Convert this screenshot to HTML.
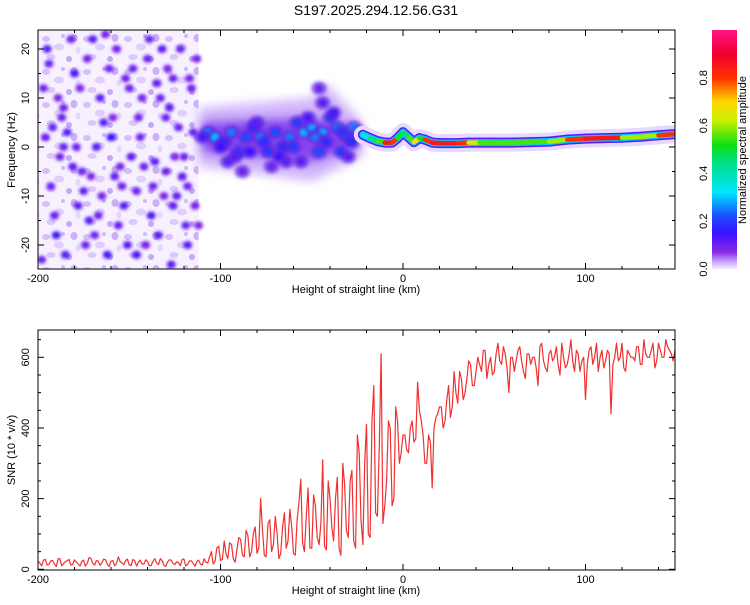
<!DOCTYPE html>
<html><head><meta charset="utf-8"><style>
body{margin:0;background:#fff;font-family:"Liberation Sans",sans-serif;}
svg text{font-family:"Liberation Sans",sans-serif;fill:#000;}
</style></head><body>
<svg id="c" width="750" height="600" xmlns="http://www.w3.org/2000/svg">
<defs>
<filter id="bl" x="-50%" y="-50%" width="200%" height="200%"><feGaussianBlur stdDeviation="1.6"/></filter>
<filter id="bl4" x="-20%" y="-50%" width="140%" height="200%"><feGaussianBlur stdDeviation="5"/></filter>
<pattern id="noise" width="41" height="33" patternUnits="userSpaceOnUse">
<rect width="41" height="33" fill="#f6f0ff"/>
<ellipse cx="5" cy="6" rx="4" ry="3" fill="#d6bffb"/><ellipse cx="18" cy="14" rx="5" ry="3.5" fill="#e0cffd"/><ellipse cx="33" cy="5" rx="3.5" ry="4" fill="#cbb0f8"/>
<ellipse cx="10" cy="24" rx="4.5" ry="3" fill="#dcc8fc"/><ellipse cx="28" cy="26" rx="3" ry="3" fill="#c8a8f6"/><ellipse cx="37" cy="17" rx="2.5" ry="3.5" fill="#e4d6fd"/><ellipse cx="22" cy="3" rx="2" ry="2" fill="#d2b8fa"/></pattern>
<linearGradient id="cb" x1="0" y1="1" x2="0" y2="0">
<stop offset="0" stop-color="#f4ecff"/><stop offset="0.03" stop-color="#c9a6ff"/><stop offset="0.07" stop-color="#8a2be2"/><stop offset="0.15" stop-color="#3a10ff"/><stop offset="0.22" stop-color="#1b4cff"/><stop offset="0.32" stop-color="#00e5ff"/><stop offset="0.45" stop-color="#00e080"/><stop offset="0.52" stop-color="#10e010"/><stop offset="0.62" stop-color="#c8f000"/><stop offset="0.7" stop-color="#ffd800"/><stop offset="0.8" stop-color="#ff3000"/><stop offset="0.9" stop-color="#f00030"/><stop offset="1" stop-color="#ff1488"/></linearGradient>
<clipPath id="clipTop"><rect x="38" y="30" width="637" height="239"/></clipPath>
<clipPath id="clipBot"><rect x="38" y="330" width="637" height="240"/></clipPath>
</defs>
<text x="376" y="15" font-size="14" text-anchor="middle">S197.2025.294.12.56.G31</text>
<g id="topPanel"></g>
<g id="botPanel"></g>
<g id="cbar"></g>
</svg>
<script>
// ---- data ----
const ridgeX = [-22,-18,-14,-10,-6,-3,0,3,6,9,12,16,20,24,30,36,42,50,60,70,80,90,100,110,120,130,140,148];
const ridgeF = [2.5,1.8,1.2,0.9,0.9,1.8,3.0,2.0,1.0,1.8,1.5,0.9,0.8,0.8,0.8,0.9,0.9,0.9,0.9,1.0,1.1,1.5,1.7,1.8,1.9,2.1,2.4,2.6];
const ridgeAmp = [0.35,0.45,0.55,0.85,0.8,0.5,0.45,0.55,0.7,0.5,0.8,0.85,0.85,0.85,0.8,0.65,0.55,0.55,0.55,0.55,0.6,0.8,0.85,0.85,0.6,0.6,0.8,0.85];
const blobX = [-107,-103,-98,-94,-90,-86,-82,-78,-74,-70,-66,-62,-58,-54,-50,-46,-44,-40,-36,-33,-30,-27,-24,-100,-92,-84,-76,-68,-60,-52,-48,-42,-38,-34,-28,-46,-56,-72,-88,-96,-80,-64,-44,-30,-110];
const blobF = [3,2,1,3,-1,2,4,2,-1,3,0,2,5,3,4,-1,3,6,4,3,2,4,3,0,-2,-1,1,-2,0,6,2,1,7,-1,1,12,-3,-4,-5,-3,5,-3,9,-2,2];
const blobAmp = [0.25,0.3,0.18,0.25,0.2,0.22,0.18,0.26,0.2,0.22,0.18,0.25,0.2,0.3,0.28,0.22,0.28,0.2,0.24,0.2,0.22,0.26,0.3,0.15,0.12,0.15,0.18,0.15,0.2,0.14,0.25,0.18,0.14,0.2,0.18,0.1,0.12,0.1,0.1,0.12,0.12,0.12,0.12,0.12,0.14];
const bgX = [-195,-190,-186,-180,-176,-170,-165,-160,-156,-150,-146,-140,-136,-130,-126,-122,-118,-115,-193,-184,-174,-166,-158,-148,-138,-128,-120,-197,-188,-178,-168,-162,-152,-144,-134,-124,-116,-192,-182,-172,-154,-142,-132,-126,-119,-186,-164,-146,-130,-113,
 -198,-189,-181,-173,-167,-159,-151,-143,-137,-129,-121,-114,-196,-185,-177,-169,-157,-149,-139,-131,-123,-117,-191,-179,-171,-161,-153,-141,-133,-125,-194,-175,-163,-145,-127,-112,-187,-155,-135,-118];
const bgF = [20,-18,8,15,-5,22,-10,2,-16,12,-22,18,-3,6,-12,20,-20,3,-8,3,-20,10,-6,16,-14,8,-2,12,-2,-12,0,-22,14,2,-18,-10,12,4,22,-15,-8,-4,20,14,-16,0,5,-9,-5,18,
 -23,10,-4,18,-14,6,-20,10,-8,16,-6,-12,2,-22,12,-18,20,-2,22,-10,4,14,-14,0,-6,16,-12,-20,10,-2,17,-9,23,6,-24,-16,6,-4,13,-8];
const bgAmp = [0.12,0.14,0.1,0.13,0.1,0.12,0.09,0.15,0.11,0.1,0.13,0.1,0.12,0.1,0.11,0.1,0.12,0.1,0.1,0.12,0.1,0.12,0.11,0.1,0.13,0.11,0.1,0.1,0.1,0.11,0.12,0.13,0.1,0.1,0.12,0.11,0.1,0.1,0.1,0.12,0.1,0.1,0.11,0.1,0.1,0.1,0.12,0.1,0.1,0.09,
 0.1,0.08,0.11,0.09,0.1,0.08,0.12,0.09,0.1,0.08,0.11,0.09,0.1,0.12,0.08,0.1,0.09,0.11,0.1,0.08,0.1,0.09,0.11,0.1,0.08,0.1,0.12,0.09,0.1,0.08,0.1,0.11,0.09,0.1,0.12,0.08,0.1,0.09,0.11,0.1];
const snrVals = [22,10,28,14,25,8,30,16,24,12,27,15,22,9,33,17,25,11,29,14,23,10,35,18,24,12,28,9,26,15,22,11,30,13,25,8,27,16,21,10,29,14,24,9,26,12,
20,35,15,60,25,80,30,70,20,90,40,110,35,100,45,
200,40,130,50,150,30,120,60,170,45,140,255,50,230,60,180,70,310,55,200,
80,260,40,240,90,280,60,330,70,410,90,520,150,610,180,
420,180,460,300,380,
340,400,360,530,420,300,380,230,430,460,
400,480,430,560,470,540,500,590,520,560,
580,620,540,600,560,640,580,610,500,600,590,630,560,610,580,600,520,640,570,610,590,630,550,600,580,650,560,610,590,480,620,580,640,600,570,620,440,600,590,640,560,610,600,630,580,650,600,620,570,640,600,650,620,590,640];
const snrValsB = [18,26,12,24,15,30,10,22,28,14,20,9,26,17,31,12,23,19,27,8,25,16,22,13,29,11,24,20,15,27,10,23,18,30,12,21,26,14,19,28,9,24,17,22,15,
30,18,50,22,65,28,45,75,30,55,85,35,95,50,120,
60,110,35,140,70,100,45,160,80,120,40,190,75,150,60,210,90,130,65,250,
120,200,60,300,110,250,80,380,140,300,100,420,160,350,130,
250,400,200,420,330,
380,330,420,370,450,380,300,360,400,440,
460,420,520,460,500,560,480,540,580,520,
600,560,620,580,550,610,590,630,570,600,560,620,590,540,610,600,570,630,590,560,620,600,580,640,570,610,590,620,560,600,580,630,600,560,620,590,610,580,640,600,570,620,600,590,630,580,610,600,640,590,620,600,630,610,620];
const xTicks = [-200,-100,0,100];
const fTicks = [-20,-10,0,10,20];
const snrTicks = [0,200,400,600];
const cbTicks = [0.0,0.2,0.4,0.6,0.8];

// ---- scales ----
const L=38,R=675;
const xs = v => 403 + v*1.825;
const fs = v => 147 - v*4.9;
const ss = v => 569.3 - v*0.3533;
const NS='http://www.w3.org/2000/svg';
function mk(tag,attrs,parent){const e=document.createElementNS(NS,tag);for(const k in attrs)e.setAttribute(k,attrs[k]);parent.appendChild(e);return e;}
const stops=[[0,[244,236,255]],[0.03,[201,166,255]],[0.07,[138,43,226]],[0.15,[58,16,255]],[0.22,[27,76,255]],[0.32,[0,229,255]],[0.45,[0,224,128]],[0.52,[16,224,16]],[0.62,[200,240,0]],[0.7,[255,216,0]],[0.8,[255,48,0]],[0.9,[240,0,48]],[1,[255,20,136]]];
function cmap(a){for(let i=1;i<stops.length;i++){if(a<=stops[i][0]){const[t0,c0]=stops[i-1],[t1,c1]=stops[i];const t=(a-t0)/(t1-t0);return 'rgb('+c0.map((c,j)=>Math.round(c+(c1[j]-c)*t)).join(',')+')';}}return 'rgb(255,20,136)';}

// ---- top panel ----
const topG=document.getElementById('topPanel');
const tg=mk('g',{'clip-path':'url(#clipTop)'},topG);
const bgr=mk('rect',{x:xs(-200),y:30,width:xs(-112)-xs(-200),height:239,fill:'url(#noise)'},tg);


const halo=mk('path',{d:'M'+xs(-112)+' '+fs(8)+' L'+xs(-50)+' '+fs(10)+' L'+xs(-42)+' '+fs(13)+' L'+xs(-22)+' '+fs(5)+' L'+xs(-22)+' '+fs(-2)+' L'+xs(-50)+' '+fs(-7)+' L'+xs(-112)+' '+fs(-4)+'Z',fill:'#d2b6fb',filter:'url(#bl4)'},tg);


const core=mk('path',{d:'M'+xs(-110)+' '+fs(5)+' L'+xs(-50)+' '+fs(6)+' L'+xs(-25)+' '+fs(4)+' L'+xs(-25)+' '+fs(0)+' L'+xs(-50)+' '+fs(-3)+' L'+xs(-110)+' '+fs(-1)+'Z',fill:'#6a22e8',opacity:0.75,filter:'url(#bl4)'},tg);


bgX.forEach((x,i)=>{const c=mk('ellipse',{cx:xs(x),cy:fs(bgF[i]),rx:4.5,ry:4,fill:cmap(bgAmp[i]),filter:'url(#bl)'},tg);

});
blobX.forEach((x,i)=>{const g=mk('g',{},tg);


mk('ellipse',{cx:xs(x),cy:fs(blobF[i]),rx:8,ry:7,fill:'#5a20e0',opacity:0.6,filter:'url(#bl)'},g);
mk('ellipse',{cx:xs(x),cy:fs(blobF[i]),rx:4.5,ry:4,fill:cmap(blobAmp[i]),filter:'url(#bl)'},g);});
// ridge
const rg=mk('g',{},tg);


for(let i=0;i<ridgeX.length-1;i++){
 const x0=xs(ridgeX[i]),x1=xs(ridgeX[i+1]),y0=fs(ridgeF[i]),y1=fs(ridgeF[i+1]);
 mk('line',{x1:x0,y1:y0,x2:x1,y2:y1,stroke:'#e6d8ff',"stroke-width":18,"stroke-linecap":"round"},rg);
}
[[10,0.12],[7,0.3],[4.5,0]].forEach(([w,amp])=>{
 for(let i=0;i<ridgeX.length-1;i++){
  const x0=xs(ridgeX[i]),x1=xs(ridgeX[i+1]),y0=fs(ridgeF[i]),y1=fs(ridgeF[i+1]);
  const a=amp>0?amp:ridgeAmp[i];
  mk('line',{x1:x0,y1:y0,x2:x1,y2:y1,stroke:cmap(a),"stroke-width":w,"stroke-linecap":"round"},rg);
 }});
// frame + ticks
function frame(parent,y0,y1){mk('rect',{x:L,y:y0,width:R-L,height:y1-y0,fill:'none',stroke:'#000','stroke-width':1},parent);}
frame(topG,30,269);
function xAxis(parent,y0,y1){
 for(let v=-200;v<=150;v+=20){const x=xs(v);const big=v%100===0;const l=big?6:3;
  mk('line',{x1:x,y1:y1,x2:x,y2:y1-l,stroke:'#000'},parent);mk('line',{x1:x,y1:y0,x2:x,y2:y0+l,stroke:'#000'},parent);}
 xTicks.forEach(v=>{const t=mk('text',{x:xs(v),y:y1+13,'font-size':11,'text-anchor':'middle'},parent);t.textContent=v;
  
  });
 const t=mk('text',{x:356,y:y1+24,'font-size':11,'text-anchor':'middle'},parent);t.textContent='Height of straight line (km)';
 
 
}
xAxis(topG,30,269);
for(let v=-20;v<=20;v+=5){const y=fs(v);const l=v%10===0?6:3;mk('line',{x1:L,y1:y,x2:L+l,y2:y,stroke:'#000'},topG);mk('line',{x1:R,y1:y,x2:R-l,y2:y,stroke:'#000'},topG);}
fTicks.forEach(v=>{const t=mk('text',{x:0,y:0,'font-size':11,'text-anchor':'middle',transform:'translate(29,'+fs(v)+') rotate(-90)'},topG);t.textContent=v;
 
 });
{const t=mk('text',{x:0,y:0,'font-size':11,'text-anchor':'middle',transform:'translate(15,150) rotate(-90)'},topG);t.textContent='Frequency (Hz)';
 
 }

// ---- bottom panel ----
const botG=document.getElementById('botPanel');
const bg=mk('g',{'clip-path':'url(#clipBot)'},botG);
let d='';
snrVals.forEach((v,i)=>{
 d+=(i?'L':'M')+xs(-200+i*2).toFixed(1)+' '+ss(v).toFixed(1);
 if(i<snrValsB.length) d+='L'+xs(-199+i*2).toFixed(1)+' '+ss(snrValsB[i]).toFixed(1);
});
const ln=mk('path',{d:d,fill:'none',stroke:'#f03030','stroke-width':1.2,'stroke-linejoin':'round'},bg);


frame(botG,330,570);
xAxis(botG,330,570);
for(let v=0;v<=650;v+=50){const y=ss(v);const l=v%200===0?6:3;mk('line',{x1:L,y1:y,x2:L+l,y2:y,stroke:'#000'},botG);mk('line',{x1:R,y1:y,x2:R-l,y2:y,stroke:'#000'},botG);}
snrTicks.forEach(v=>{const t=mk('text',{x:0,y:0,'font-size':11,'text-anchor':'middle',transform:'translate(29,'+ss(v)+') rotate(-90)'},botG);t.textContent=v;
 
 });
{const t=mk('text',{x:0,y:0,'font-size':11,'text-anchor':'middle',transform:'translate(15,450) rotate(-90)'},botG);t.textContent='SNR (10 * v/v)';
 
 }

// ---- colorbar ----
const cbG=document.getElementById('cbar');
const cbs=v=>269-v*239/1.0;
const cr=mk('rect',{x:712,y:30,width:25,height:239,fill:'url(#cb)'},cbG);


cbTicks.forEach(v=>{const t=mk('text',{x:0,y:0,'font-size':11,'text-anchor':'middle',transform:'translate(707,'+cbs(v)+') rotate(-90)'},cbG);t.textContent=v.toFixed(1);
 
 });
{const t=mk('text',{x:0,y:0,'font-size':11,'text-anchor':'middle',transform:'translate(746,150) rotate(-90)'},cbG);t.textContent='Normalized spectral amplitude';
 
 }
</script>
</body></html>
